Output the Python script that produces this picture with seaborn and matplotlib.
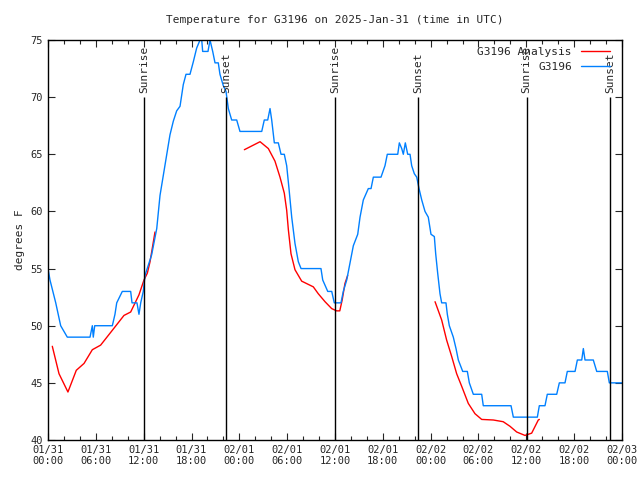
import numpy as np
import pandas as pd
import seaborn as sns
import matplotlib.pyplot as plt
from matplotlib.ticker import MultipleLocator

# hours since 2025-01-31 00:00 UTC
obs_hours = [0, 0.25, 0.97, 1.59, 2.42, 5.27, 5.56, 5.68, 5.86, 8.07, 8.4, 8.62, 9.32, 10.37,
             10.54, 11.16, 11.41, 11.63, 11.95, 12.17, 13.0, 13.64, 14.05, 14.68, 15.3, 15.72,
             16.14, 16.56, 16.97, 17.31, 17.81, 18.23, 18.65, 19.07, 19.25, 19.4, 20.07, 20.32,
             20.66, 20.95, 21.36, 21.57, 21.99, 22.33, 22.62, 23.04, 23.67, 24.08, 26.81, 27.13,
             27.56, 27.85, 28.06, 28.39, 28.89, 29.23, 29.64, 29.94, 30.23, 30.57, 30.98, 31.4,
             31.74, 34.24, 34.46, 35.09, 35.59, 35.91, 36.75, 37.04, 37.47, 37.88, 38.3, 38.85,
             39.14, 39.55, 40.18, 40.52, 40.81, 41.77, 42.27, 42.56, 43.87, 44.07, 44.37, 44.57,
             44.82, 45.12, 45.41, 45.62, 45.95, 46.25, 46.54, 46.88, 47.29, 47.7, 48.04, 48.46,
             48.63, 48.88, 49.17, 49.38, 49.92, 50.09, 50.34, 50.84, 51.18, 51.47, 52.02, 52.6,
             52.85, 53.35, 54.4, 54.6, 58.08, 58.37, 61.38, 61.63, 62.34, 62.63, 63.81, 64.14,
             64.85, 65.14, 66.11, 66.4, 66.95, 67.15, 67.36, 68.4, 68.83, 70.16, 70.41, 72]
obs_temps = [55, 54, 52, 50, 49, 49, 50, 49, 50, 50, 51, 52, 53, 53,
             52, 52, 51, 52, 53, 54.4, 56.2, 58.5, 61.4, 64.1, 66.7, 67.9,
             68.8, 69.2, 71.1, 72, 72, 73.1, 74.3, 75, 75.3, 74, 74, 75,
             74, 73, 73, 72, 71, 70.5, 69, 68, 68, 67, 67, 68,
             68, 69, 68, 66, 66, 65, 65, 64, 62, 59.5, 57.2, 55.6,
             55, 55, 54, 53, 53, 52, 52, 53, 54, 55.5, 57, 58,
             59.5, 61, 62, 62, 63, 63, 64, 65, 65, 66, 65.5, 65,
             66, 65, 65, 64, 63.3, 63, 62, 61, 60, 59.5, 58, 57.8,
             56.3, 54.6, 52.8, 52, 52, 51, 50, 49, 48, 47, 46, 46,
             45, 44, 44, 43, 43, 42, 42, 43, 43, 44, 44, 45,
             45, 46, 46, 47, 47, 48, 47, 47, 46, 46, 45, 45]

# analysis segments (gaps between them)
ana1_hours = [0.54, 1.38, 2.5, 3.55, 4.52, 5.56, 6.6, 8.07, 9.53, 10.37, 11.41, 12.04, 12.46, 12.8, 13.42]
ana1_temps = [48.2, 45.8, 44.2, 46.1, 46.7, 47.9, 48.3, 49.6, 50.9, 51.2, 52.7, 54.0, 54.6, 55.6, 58.2]
ana2_hours = [24.63, 26.6, 27.64, 28.47, 29.1, 29.64, 29.94, 30.15, 30.48, 30.98, 31.82, 33.28,
              33.9, 34.75, 35.58, 36.2, 36.6, 36.9, 37.25, 37.59]
ana2_temps = [65.4, 66.1, 65.5, 64.4, 63.0, 61.6, 60.1, 58.4, 56.3, 54.9, 53.9, 53.4,
              52.8, 52.1, 51.5, 51.3, 51.3, 52.25, 53.7, 54.4]
ana3_hours = [48.55, 49.38, 50.0, 50.64, 51.26, 51.89, 52.72, 53.56, 54.4, 55.86, 57.1, 57.95,
              58.79, 59.83, 60.67, 61.5, 61.63]
ana3_temps = [52.1, 50.5, 48.75, 47.3, 45.8, 44.7, 43.2, 42.3, 41.8, 41.75, 41.6, 41.2,
              40.7, 40.4, 40.6, 41.75, 41.8]

sunrise = [12.05, 36.0, 60.05]
sunset = [22.3, 46.4, 70.5]

tick_hours = list(range(0, 73, 6))
tick_labels = ["01/31\n00:00", "01/31\n06:00", "01/31\n12:00", "01/31\n18:00",
               "02/01\n00:00", "02/01\n06:00", "02/01\n12:00", "02/01\n18:00",
               "02/02\n00:00", "02/02\n06:00", "02/02\n12:00", "02/02\n18:00",
               "02/03\n00:00"]

sns.set_style("ticks")
plt.rcParams['font.family'] = ['DejaVu Sans Mono', 'DejaVu Sans']
plt.rcParams['font.size'] = 7.5

fig = plt.figure(figsize=(6.4, 4.8), dpi=100)
ax = fig.add_axes([48 / 640, 40 / 480, 574 / 640, 400 / 480])

red = "#ff0000"
blue = "#0080ff"
ana_segments = [(ana1_hours, ana1_temps), (ana2_hours, ana2_temps), (ana3_hours, ana3_temps)]
for i, (h, t) in enumerate(ana_segments):
    sns.lineplot(x=h, y=t, ax=ax, color=red, lw=1,
                 label="G3196 Analysis" if i == 0 else None, estimator=None, sort=False)
sns.lineplot(x=obs_hours, y=obs_temps, ax=ax, color=blue, lw=1, label="G3196",
             estimator=None, sort=False)

for h in sunrise:
    ax.vlines(h, 40, 70, color="black", lw=1)
    ax.text(h, 70.4, "Sunrise", rotation=90, ha="center", va="bottom", fontsize=8)
for h in sunset:
    ax.vlines(h, 40, 70, color="black", lw=1)
    ax.text(h, 70.4, "Sunset", rotation=90, ha="center", va="bottom", fontsize=8)

ax.set_xlim(0, 72)
ax.set_ylim(40, 75)
ax.set_xticks(tick_hours)
ax.set_xticklabels(tick_labels)
ax.xaxis.set_minor_locator(MultipleLocator(2))
ax.set_yticks(range(40, 76, 5))
ax.tick_params(which="both", direction="in", top=True, right=True, length=5, width=0.8)
ax.tick_params(which="minor", length=3)
for s in ax.spines.values():
    s.set_linewidth(1)
    s.set_color("black")

ax.set_ylabel("degrees F", fontsize=8)
ax.set_xlabel("")
ax.set_title("Temperature for G3196 on 2025-Jan-31 (time in UTC)", fontsize=8, pad=12)

leg = ax.legend(loc="upper right", frameon=False, markerfirst=False, handlelength=2.6,
                fontsize=8, borderaxespad=0.2, labelspacing=0.45,
                bbox_to_anchor=(0.99, 1.0))

fig.savefig("out.png", dpi=100)
